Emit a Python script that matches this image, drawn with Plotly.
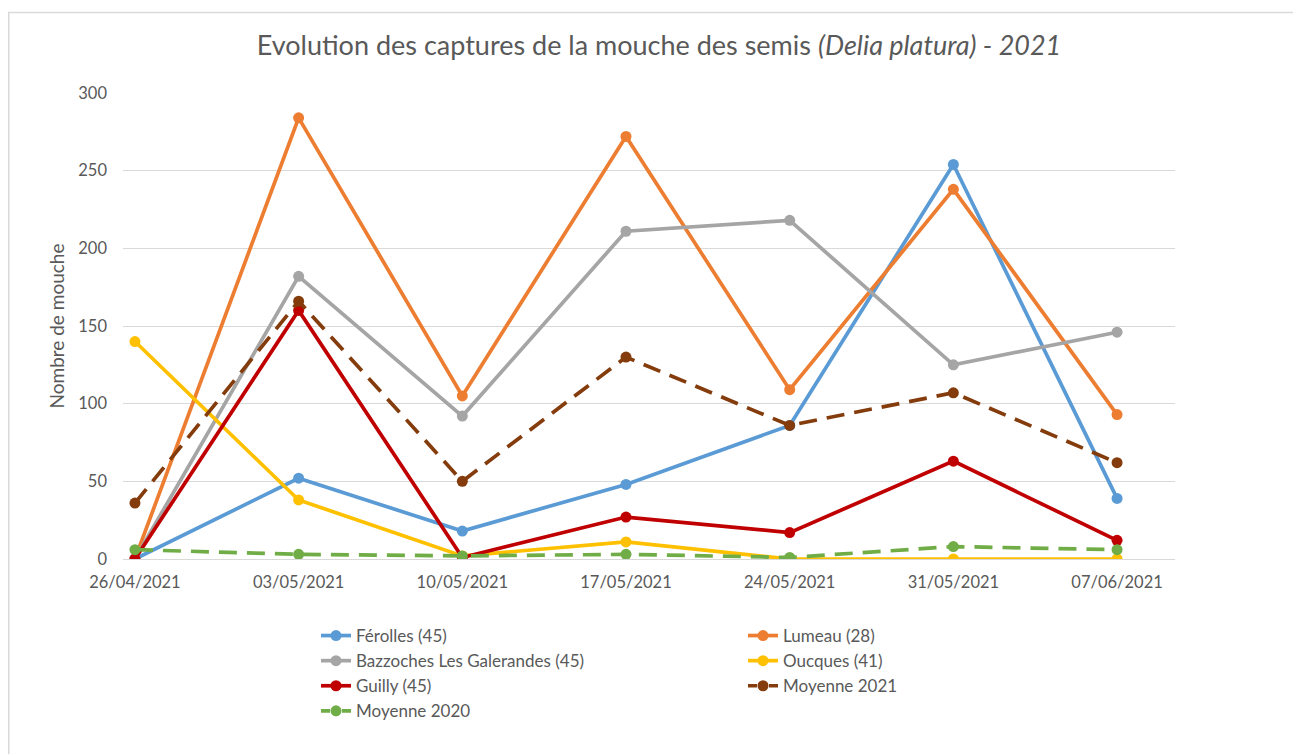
import plotly.graph_objects as go

dates = ["26/04/2021", "03/05/2021", "10/05/2021", "17/05/2021",
         "24/05/2021", "31/05/2021", "07/06/2021"]

ferolles = [0, 52, 18, 48, 86, 254, 39]
lumeau = [0, 284, 105, 272, 109, 238, 93]
bazzoches = [0, 182, 92, 211, 218, 125, 146]
oucques = [140, 38, 2, 11, 0, 0, 0]
guilly = [0, 160, 1, 27, 17, 63, 12]
moyenne_2021 = [36, 166, 50, 130, 86, 107, 62]
moyenne_2020 = [6, 3, 2, 3, 1, 8, 6]

series = [
    ("Férolles (45)", ferolles, "#5B9BD5", "solid"),
    ("Lumeau (28)", lumeau, "#ED7D31", "solid"),
    ("Bazzoches Les Galerandes (45)", bazzoches, "#A5A5A5", "solid"),
    ("Oucques (41)", oucques, "#FFC000", "solid"),
    ("Guilly (45)", guilly, "#C00000", "solid"),
    ("Moyenne 2021", moyenne_2021, "#843C0C", "18px,10px"),
    ("Moyenne 2020", moyenne_2020, "#70AD47", "18px,10px"),
]

FONT = "Lato"
GREY = "#595959"
LW = 3.7
MS = 11

fig = go.Figure()
proxies = []
for name, vals, color, dash in series:
    dashed = dash != "solid"
    fig.add_trace(go.Scatter(
        x=dates, y=vals, name=name, mode="lines+markers",
        legendgroup=name, showlegend=not dashed,
        line=dict(color=color, width=LW, dash=dash),
        marker=dict(color=color, size=MS, line=dict(color=color, width=0)),
    ))
    if dashed:
        proxies.append((name, color))

# legend entries for the dashed series (symmetric dash around the marker)
for name, color in proxies:
    fig.add_trace(go.Scatter(
        x=[None], y=[None], name=name, mode="lines+markers",
        legendgroup=name, showlegend=True, hoverinfo="skip",
        line=dict(color=color, width=LW, dash="9px,12px"),
        marker=dict(color=color, size=MS, line=dict(color=color, width=0)),
    ))

# the page body has an 8px margin; figure coordinates = screen - 8
W, H = 1293, 746
L, T = 115, 85
PW, PH = 1052, 466
R, B = W - L - PW, H - T - PH

def px_x(x):
    return (x - L) / PW

def px_y(y):
    return (T + PH - y) / PH

fig.update_layout(
    width=W, height=H,
    margin=dict(l=L, r=R, t=T, b=B, autoexpand=False),
    paper_bgcolor="white", plot_bgcolor="white",
    font=dict(family=FONT, color=GREY, size=16),
    title=dict(
        text="Evolution des captures de la mouche des semis <i>(Delia platura) - 2021</i>",
        x=651 / W, xanchor="center", xref="container",
        y=1 - 38 / H, yanchor="middle", yref="container",
        font=dict(family=FONT, size=27, color=GREY),
    ),
    xaxis=dict(
        type="category", range=[-0.073, 6.354],
        showgrid=False, showline=True, linecolor="#D9D9D9", linewidth=1,
        ticks="", tickfont=dict(size=16.5, color=GREY), ticklabelstandoff=8,
        zeroline=False, fixedrange=True,
    ),
    yaxis=dict(
        range=[0, 300], dtick=50, showgrid=True, gridcolor="#D9D9D9", gridwidth=1,
        showline=False, zeroline=False, ticks="",
        tickfont=dict(size=16.5, color=GREY), ticklabelstandoff=15,
        title=dict(text="Nombre de mouche", font=dict(size=19, color=GREY), standoff=8),
        fixedrange=True,
    ),
    legend=dict(
        orientation="h", x=px_x(308), xanchor="left", y=px_y(610), yanchor="top",
        entrywidth=382, font=dict(size=17, color=GREY),
        bgcolor="rgba(0,0,0,0)", traceorder="normal",
    ),
    shapes=[dict(
        type="rect", xref="paper", yref="paper",
        x0=px_x(0.75), x1=px_x(1330), y0=px_y(800), y1=px_y(4.5),
        line=dict(color="#D9D9D9", width=1.5), fillcolor="rgba(0,0,0,0)", layer="below",
    )],
    showlegend=True,
)

fig.write_html("out.html")
